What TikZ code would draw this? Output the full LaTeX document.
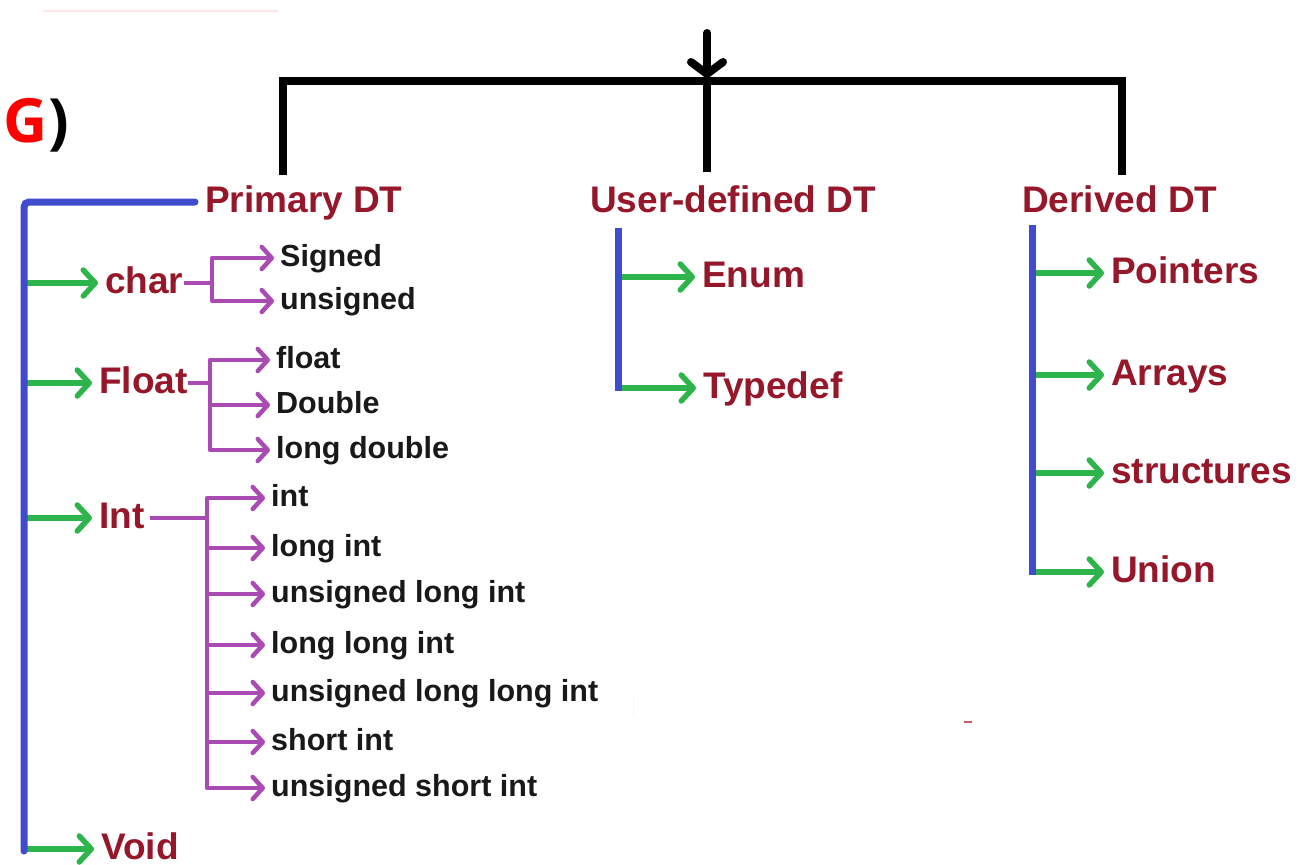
\documentclass[tikz,border=0pt]{standalone}
\usepackage{fontspec}
\setsansfont{Liberation Sans}
\newfontfamily\tagfont{Open Sans}
\usetikzlibrary{arrows.meta}

\definecolor{typered}{RGB}{150,22,42}
\definecolor{busblue}{RGB}{65,75,205}
\definecolor{leafgreen}{RGB}{45,180,75}
\definecolor{forkpurple}{RGB}{170,75,180}
\definecolor{leafblack}{RGB}{25,25,25}

\tikzset{
  maintype/.style={anchor=west,inner sep=0pt,text=typered,font=\sffamily\bfseries\fontsize{37}{44}\selectfont,text height=27pt,text depth=7pt},
  subtype/.style={anchor=west,inner sep=0pt,text=leafblack,font=\sffamily\bfseries\fontsize{30.5}{36}\selectfont,text height=22pt,text depth=6pt},
  bus/.style={busblue,line width=7pt},
  branch/.style={leafgreen,line width=5.5pt,-{Straight Barb[length=12pt,width=26pt,round]},shorten >=7pt},
  fork/.style={forkpurple,line width=4.5pt,line join=round,-{Straight Barb[length=10pt,width=22pt,round]},shorten >=6pt},
  bracket/.style={black,line width=8pt}
}

\begin{document}
\begin{tikzpicture}[x=1pt,y=-1pt]
\useasboundingbox (0,0) rectangle (1299,865);
\clip (0,0) rectangle (1299,865);

% left over from the slide above
\draw[red!10,line width=1.5pt] (43,11) -- (278,11);
\node[anchor=base east,inner sep=0pt,font=\tagfont\bfseries\fontsize{61}{70}\selectfont] (tag) at (69,142) {\textcolor{red}{DG})};

% the three families
\node[maintype] (pdt) at (205,202) {Primary DT};
\node[maintype] (udt) at (590,202) {User-defined DT};
\node[maintype] (ddt) at (1022,202) {Derived DT};

\coordinate (root) at (707,33);
\coordinate (join) at (707,81);
\coordinate (pfoot) at (283,175);
\coordinate (ufoot) at (707,172);
\coordinate (dfoot) at (1122,175);
\draw[bracket] (pfoot) |- (dfoot |- join) -- (dfoot);
\draw[bracket] (join) -- (ufoot);
\draw[bracket,line cap=round,-{Straight Barb[length=12pt,width=32pt,round]}] (root) -- ([yshift=3pt]join);

% primary
\node[maintype] (char) at (105,283) {char};
\node[maintype] (float) at (99,383) {Float};
\node[maintype] (int) at (99,518) {Int};
\node[maintype] (void) at (101,849) {Void};

\coordinate (cfork) at (212,0);
\coordinate (ffork) at (210,0);
\coordinate (ifork) at (207,0);

\foreach \name/\y/\txt in {sgn/258/Signed, usgn/301/unsigned}{
  \node[subtype] (\name) at (280,\y) {\txt};
  \draw[fork] (char.east) -- (char.east -| cfork) |- (\name.west);
}
\foreach \name/\y/\txt in {flt/360/float, dbl/405/Double, ldbl/450/long double}{
  \node[subtype] (\name) at (276,\y) {\txt};
  \draw[fork] (float.east) -- (float.east -| ffork) |- (\name.west);
}
\foreach \name/\y/\txt in {in/498/int, li/548/long int, uli/594/unsigned long int, lli/645/long long int, ulli/693/unsigned long long int, si/742/short int, usi/788/unsigned short int}{
  \node[subtype] (\name) at (271,\y) {\txt};
  \draw[fork] ([xshift=5pt]int.east) -- (int.east -| ifork) |- (\name.west);
}

\coordinate (pbus) at (24,851);
\foreach \n in {char,float,int,void}
  \draw[branch] (pbus |- \n.west) -- (\n.west);
\draw[bus,line cap=round,rounded corners=5pt] ([xshift=-10pt]pdt.west) -| (pbus);

% user-defined
\node[maintype] (enum) at (702,277) {Enum};
\node[maintype] (typedef) at (703,388) {Typedef};
\coordinate (utop) at (618,228);
\coordinate (ubot) at (618,391);
\foreach \n in {enum,typedef}
  \draw[branch] (utop |- \n.west) -- (\n.west);
\draw[bus] (utop) -- (ubot);

% derived
\foreach \name/\y/\txt in {ptr/273/Pointers, arr/375/Arrays, str/473/structures, uni/572/Union}
  \node[maintype] (\name) at (1111,\y) {\txt};
\coordinate (dtop) at (1032,225);
\coordinate (dbot) at (1032,575);
\foreach \n in {ptr,arr,str,uni}
  \draw[branch] (dtop |- \n.west) -- (\n.west);
\draw[bus] (dtop) -- (dbot);

% stray marks
\draw[yellow!20,line width=1pt] (633,695) -- (633,715);
\draw[typered!70,line width=2pt] (964,722) -- (972,722);
\end{tikzpicture}
\end{document}
